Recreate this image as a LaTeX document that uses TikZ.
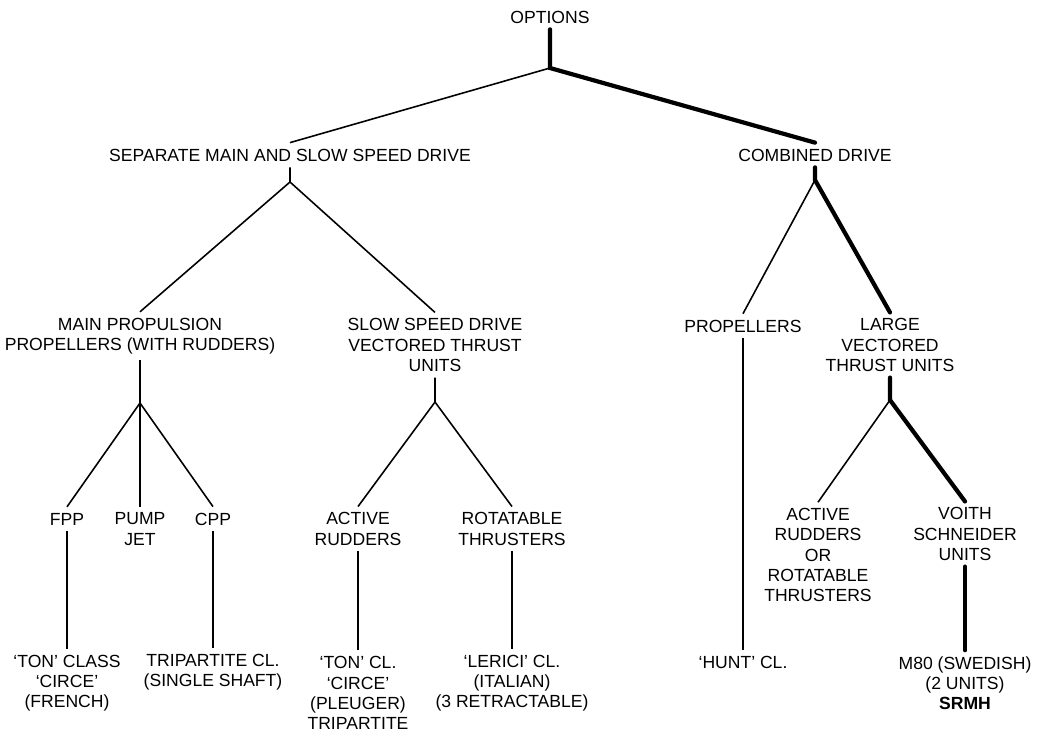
\documentclass[tikz,border=0pt]{standalone}
\usepackage{fontspec}
\setmainfont{Liberation Sans}
\usepackage{tikz}

\tikzset{
    opt/.style = {align=center, inner sep=2pt, outer sep=1.5pt, font=\fontsize{10}{11.5}\selectfont},
    thin/.style = {line width=0.9pt},
    heavy/.style = {line width=2.4pt, line cap=round}
}

\begin{document}
\begin{tikzpicture}[x=0.02cm, y=-0.02cm]
    \useasboundingbox (0,0) rectangle (1040,735);
    \node[opt] (options) at (550,17) {OPTIONS};
    \node[opt] (separate) at (290,155) {SEPARATE MAIN AND SLOW SPEED DRIVE};
    \node[opt] (combined) at (815,155) {COMBINED DRIVE};
    \node[opt] (mainprop) at (140,336) {MAIN PROPULSION\\PROPELLERS (WITH RUDDERS)};
    \node[opt] (slowdrive) at (435,345) {SLOW SPEED DRIVE\\VECTORED THRUST\\UNITS};
    \node[opt] (propellers) at (743,326) {PROPELLERS};
    \node[opt] (large) at (890,345) {LARGE\\VECTORED\\THRUST UNITS};
    \node[opt] (fpp) at (67,519) {FPP};
    \node[opt] (pumpjet) at (140,529) {PUMP\\JET};
    \node[opt] (cpp) at (213,519) {CPP};
    \node[opt] (activerud) at (358,529) {ACTIVE\\RUDDERS};
    \node[opt] (rotatable) at (512,529) {ROTATABLE\\THRUSTERS};
    \node[opt] (activeor) at (818,555) {ACTIVE\\RUDDERS\\OR\\ROTATABLE\\THRUSTERS};
    \node[opt] (voith) at (965,534) {VOITH\\SCHNEIDER\\UNITS};
    \node[opt] (tonclass) at (67,683) {`TON' CLASS\\`CIRCE'\\(FRENCH)};
    \node[opt] (tripartite) at (213,672) {TRIPARTITE CL.\\(SINGLE SHAFT)};
    \node[opt] (toncl) at (358,693) {`TON' CL.\\`CIRCE'\\(PLEUGER)\\TRIPARTITE};
    \node[opt] (lerici) at (512,683) {`LERICI' CL.\\(ITALIAN)\\(3 RETRACTABLE)};
    \node[opt] (hunt) at (743,662) {`HUNT' CL.};
    \node[opt] (m80) at (965,683) {M80 (SWEDISH)\\(2 UNITS)\\\textbf{SRMH}};

    \coordinate (s0) at (550,68);
    \coordinate (s1) at (290,182);
    \coordinate (s2) at (815,180);
    \coordinate (s3) at (140,403);
    \coordinate (s4) at (435,402);
    \coordinate (s5) at (890,400);

    \draw[heavy] (options.south)--(s0)--(combined.north);
    \draw[thin] (s0)--(separate.north);
    \draw[thin] (separate.south)--(s1)--(mainprop.north);
    \draw[thin] (s1)--(slowdrive.north);
    \draw[heavy] (combined.south)--(s2)--(large.north);
    \draw[thin] (s2)--(propellers.north);
    \draw[thin] (mainprop.south)--(s3)--(fpp.north);
    \draw[thin] (s3)--(pumpjet.north);
    \draw[thin] (s3)--(cpp.north);
    \draw[thin] (slowdrive.south)--(s4)--(activerud.north);
    \draw[thin] (s4)--(rotatable.north);
    \draw[heavy] (large.south)--(s5)--(voith.north);
    \draw[thin] (s5)--(activeor.north);
    \draw[thin] (fpp)--(tonclass);
    \draw[thin] (cpp)--(tripartite);
    \draw[thin] (activerud)--(toncl);
    \draw[thin] (rotatable)--(lerici);
    \draw[thin] (propellers)--(hunt);
    \draw[heavy] (voith)--(m80);
\end{tikzpicture}
\end{document}
